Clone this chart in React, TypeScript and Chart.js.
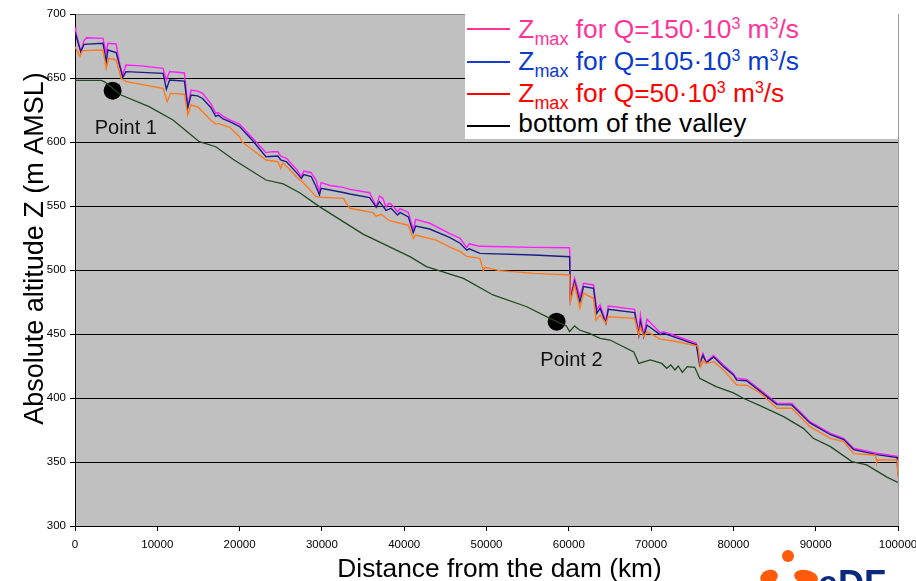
import React, { useEffect, useRef } from 'react';
import { Chart, registerables } from 'chart.js';

Chart.register(...registerables);

const FONT = '"Liberation Sans", Arial, Helvetica, sans-serif';

// [distance from dam (m), altitude (m AMSL)]
const zmax150: [number, number][] = [
  [0, 689.6], [100, 686], [700, 670.6], [1100, 679.2], [1400, 681.5], [3400, 681], [3800, 669.3], [4000, 677.1],
  [5000, 676.6], [5400, 661.5], [5800, 652.3], [6200, 660.2], [8000, 659.5], [10700, 657.6], [11100, 648.4],
  [11500, 655], [13300, 653.9], [13700, 627.6], [14100, 640.6], [14900, 639.8], [15500, 638], [16500, 630],
  [17100, 622.5], [17400, 623], [18000, 620], [18800, 617.2], [20000, 614], [21600, 602.9], [23200, 591.7],
  [24000, 592.5], [24650, 592.4], [25000, 589], [25700, 587.2], [27000, 578], [27500, 572.9], [27800, 577.3],
  [28700, 576], [29300, 570], [29700, 561.2], [29900, 568.2], [31000, 566], [32600, 564.6], [33400, 563],
  [35800, 560.4], [36600, 549.5], [37000, 557.8], [37400, 556], [37800, 549], [38100, 552], [38400, 551.6],
  [39200, 545.6], [39500, 548], [40500, 545], [41100, 531.3], [41400, 539.6], [43100, 536.5], [45500, 528.7],
  [46800, 524.8], [47600, 517.5], [47900, 520.5], [48500, 519.5], [49200, 518.5], [55700, 517.7], [60100, 517.4],
  [60200, 479.1], [60700, 493.5], [61350, 479], [61800, 489.6], [63000, 488.3], [63400, 468.8], [63800, 472.7],
  [64500, 459.6], [64800, 471.9], [68000, 469.3], [68500, 450.5], [68700, 464.8], [69100, 449.2], [69500, 461.5],
  [71100, 451], [71500, 451.8], [72700, 449.2], [75500, 442.7], [75900, 427], [76300, 434.9], [76700, 428.4],
  [77600, 433.2], [78800, 425.8], [80000, 419], [80400, 415.4], [81600, 414.6], [83300, 406.3], [85300, 395.8],
  [87100, 395.8], [89300, 381.5], [91800, 372.4], [93400, 368.5], [94600, 360.7], [97400, 356.8], [99900, 354.5],
  [100000, 339.8],
];

const zmax105: [number, number][] = [
  [0, 685.7], [700, 670.6], [1100, 676.3], [3400, 677.1], [3800, 662.8], [4000, 671.9], [5000, 669.8],
  [5800, 650.5], [6200, 655], [10700, 653.6], [11100, 641.2], [11500, 648.4], [13300, 647.6], [13700, 626.6],
  [14100, 636.7], [14900, 636], [15500, 634], [16500, 627], [17100, 620], [17400, 621], [18000, 618],
  [18800, 615.9], [20000, 612], [21600, 601], [23200, 588.5], [24650, 589], [25000, 586], [25700, 584.5],
  [27000, 575.5], [27500, 571.6], [27800, 574.5], [28700, 573], [29300, 565], [29700, 558.6], [29900, 563.8],
  [32600, 560.5], [33400, 559.4], [35800, 556.5], [36600, 549], [37000, 553.4], [37800, 546.5], [38400, 548.2],
  [39200, 543], [39500, 545], [40500, 541.5], [41100, 529.2], [41400, 534.4], [43100, 532], [45500, 525.5],
  [46800, 520.9], [47600, 515.5], [47900, 516.5], [49200, 513], [55700, 511.7], [60100, 510.4], [60200, 476.6],
  [60700, 490.9], [61350, 475.3], [61800, 487], [63000, 485.7], [63400, 466.2], [63800, 470.1], [64500, 458.4],
  [64800, 469.3], [68000, 466.7], [68500, 449.2], [68700, 459.6], [69100, 448], [69500, 457], [71100, 449.5],
  [71500, 450.5], [72700, 448], [75500, 441.5], [75900, 426], [76300, 433.5], [76700, 427.5], [77600, 432],
  [78800, 424.5], [80000, 418], [80400, 414], [81600, 413.5], [83300, 405], [85300, 394.8], [87100, 394.6],
  [89300, 380.5], [91800, 371.3], [93400, 367.5], [94600, 359.7], [97400, 355.8], [99900, 353.5], [100000, 339.5],
];

const zmax50: [number, number][] = [
  [0, 674.5], [600, 666.7], [900, 671.4], [3400, 671.9], [3800, 657.6], [4100, 665.4], [5000, 664.1],
  [5600, 649.8], [6200, 647.1], [10700, 642], [11200, 631.5], [11600, 638], [13300, 637.3], [13700, 621.1],
  [14100, 628.9], [15000, 627], [16500, 617], [17100, 614], [17400, 614.5], [18800, 611.5], [20000, 604],
  [20300, 600.2], [21600, 593.8], [23200, 585.9], [24650, 584.6], [25000, 579.4], [25200, 583.5], [25700, 581],
  [27300, 570.3], [27500, 569.8], [29300, 557.3], [29900, 556.8], [32600, 556], [33400, 548.2], [36200, 544.8],
  [36600, 542], [37200, 543.5], [38200, 538.5], [40500, 535], [41100, 524.7], [41400, 527.3], [43900, 523.4],
  [45500, 518], [46800, 514.3], [47600, 510.6], [49200, 509.1], [49600, 499.5], [49800, 502.1], [51600, 499.5],
  [55700, 497.4], [60100, 496.1], [60200, 475.3], [60700, 488.3], [61350, 470.1], [61800, 481.8], [63000, 477.9],
  [63300, 460.9], [63800, 464.8], [64500, 458.4], [64800, 463.5], [68000, 462.2], [68500, 449.2], [68700, 455.7],
  [69100, 447.9], [69500, 451.8], [71100, 446], [72700, 444.5], [75700, 440.6], [76000, 424.5], [76400, 429.2],
  [76700, 427], [77600, 428.4], [78800, 421.9], [80400, 410.2], [81600, 410], [83300, 403.7], [85300, 392],
  [87100, 392], [89300, 377.6], [91800, 368.5], [93400, 365.9], [94600, 356.5], [97300, 355.3], [97400, 349],
  [97500, 351.6], [99900, 351.6], [100000, 338.5],
];

const valleyBottom: [number, number][] = [
  [0, 648.2], [3200, 648.2], [3600, 647], [4200, 644], [5600, 636.7], [9000, 627.6], [11900, 617.2],
  [15100, 600.2], [17100, 596.3], [19200, 586.5], [23200, 570.3], [25300, 567.2], [27300, 560.4], [29700, 549.5],
  [35000, 528], [40700, 510.4], [42700, 502.6], [47200, 493.5], [50800, 480.5], [54900, 471.3], [57700, 462.2],
  [59700, 456.3], [60100, 451.8], [60700, 456.3], [61300, 453.1], [62500, 450.5], [63800, 446.6], [65000, 445.3],
  [67900, 436], [68500, 427], [69900, 429.7], [71300, 427], [71900, 423.2], [72400, 425.8], [72900, 421.9],
  [73300, 425], [73800, 420], [74400, 424.5], [75300, 424], [75900, 415.4], [77900, 408.9], [80000, 404],
  [81200, 399.8], [83300, 393.8], [86100, 385.4], [88500, 376.3], [89700, 368.5], [91800, 362], [94400, 350.3],
  [96200, 347.7], [98700, 338], [100000, 334],
];

const pointLabels = ['Point 1', 'Point 2'];
const pointDist = [4570, 58520];
const pointZ = [640.1, 459.6];

const legendFlows = ['150', '105', '50'];
const legendValley = 'bottom of the valley';
const axisTitleX = 'Distance from the dam (km)';
const axisTitleY = 'Absolute altitude Z (m AMSL)';

const legendTextColors = ['#ff3399', '#0a3acc', '#ff0000', '#000000'];
const legendLineColors = ['#ff3399', '#1a3ccc', '#ff0000', '#000000'];

export default function App() {
  const ref = useRef<HTMLCanvasElement>(null);

  useEffect(() => {
    document.body.style.margin = '0';
    const canvas = ref.current;
    if (!canvas) return;
    const toXY = (arr: [number, number][]) => arr.map(([x, y]) => ({ x, y }));

    const decor = {
      id: 'decor',
      beforeDraw(chart: any) {
        const { ctx, chartArea: a } = chart;
        ctx.save();
        ctx.fillStyle = '#c0c0c0';
        ctx.fillRect(a.left, a.top, a.right - a.left, a.bottom - a.top);
        ctx.restore();
      },
      afterDraw(chart: any) {
        const { ctx, chartArea: a } = chart;
        ctx.save();
        ctx.strokeStyle = '#9a9a9a';
        ctx.lineWidth = 1;
        ctx.beginPath();
        ctx.moveTo(Math.round(a.right) + 0.5, a.top);
        ctx.lineTo(Math.round(a.right) + 0.5, a.bottom);
        ctx.stroke();

        const meta = chart.getDatasetMeta(4);
        ctx.fillStyle = '#111';
        ctx.font = `20px ${FONT}`;
        ctx.textAlign = 'center';
        ctx.textBaseline = 'alphabetic';
        const offs = [[13.2, 43.8], [14.8, 44]];
        meta.data.forEach((el: any, i: number) => {
          ctx.fillText(pointLabels[i], el.x + offs[i][0], el.y + offs[i][1]);
        });

        // EDF logo (approximate, cut at the bottom edge)
        ctx.fillStyle = '#ff5a0a';
        ctx.beginPath(); ctx.ellipse(788, 556, 6, 6, 0, 0, Math.PI * 2); ctx.fill();
        ctx.beginPath(); ctx.ellipse(769, 577, 9, 7, -0.4, 0, Math.PI * 2); ctx.fill();
        ctx.beginPath(); ctx.ellipse(806, 577, 12, 7, 0.2, 0, Math.PI * 2); ctx.fill();
        ctx.fillStyle = '#0b2a7e';
        ctx.font = `bold 36px ${FONT}`;
        ctx.textAlign = 'left';
        ctx.fillText('eDF', 818, 596);

        ctx.fillStyle = '#000';
        ctx.textAlign = 'center';
        ctx.font = `26.3px ${FONT}`;
        ctx.fillText(axisTitleX, 499.5, 576.5);
        ctx.font = `27px ${FONT}`;
        ctx.translate(43.3, 248.5);
        ctx.rotate(-Math.PI / 2);
        ctx.fillText(axisTitleY, 0, 0);
        ctx.restore();
      },
    };

    const lineDs = (label: string, arr: [number, number][], color: string, width: number) => ({
      label,
      data: toXY(arr),
      borderColor: color,
      backgroundColor: color,
      borderWidth: width,
      showLine: true,
      pointRadius: 0,
      tension: 0,
    });

    const chart = new Chart(canvas, {
      type: 'scatter',
      data: {
        datasets: [
          lineDs('Zmax Q=50', zmax50, '#ff7a1c', 1.4),
          lineDs('Zmax Q=105', zmax105, '#1c1c86', 1.4),
          lineDs('Zmax Q=150', zmax150, '#ff1cff', 1.4),
          lineDs('bottom of the valley', valleyBottom, '#1f4a1f', 1.3),
          {
            label: 'points',
            data: pointDist.map((x, i) => ({ x, y: pointZ[i] })),
            showLine: false,
            pointRadius: 9,
            pointBackgroundColor: '#000',
            pointBorderColor: '#000',
            pointBorderWidth: 0,
          },
        ],
      } as any,
      options: {
        responsive: false,
        animation: false,
        events: [],
        layout: { padding: { left: 0, top: 14, right: 62, bottom: 0 } },
        plugins: { legend: { display: false }, tooltip: { enabled: false } },
        scales: {
          x: {
            type: 'linear',
            min: 0,
            max: 100000,
            afterFit(s: any) { s.height = 55; },
            ticks: {
              stepSize: 10000,
              autoSkip: false,
              maxRotation: 0,
              padding: 7,
              color: '#000',
              font: { family: FONT, size: 11.5 },
              callback: (v: any) => String(v),
            },
            grid: { drawOnChartArea: false, drawTicks: true, tickLength: 5, color: '#000' },
            border: { display: true, color: '#000', width: 1 },
          },
          y: {
            min: 300,
            max: 700,
            afterFit(s: any) { s.width = 75; },
            ticks: {
              stepSize: 50,
              padding: 4,
              color: '#000',
              font: { family: FONT, size: 11.5 },
            },
            grid: {
              color: (c: any) => (c.tick && c.tick.value === 700 ? '#8a8a8a' : '#000'),
              tickColor: '#000',
              tickLength: 5,
              lineWidth: 1,
            },
            border: { display: true, color: '#000', width: 1 },
          },
        },
      } as any,
      plugins: [decor],
    });
    return () => chart.destroy();
  }, []);

  const lineTops = [14.3, 46.7, 79.3, 110.7];
  const textTops = [1.5, 33.5, 65.5, 96];

  return (
    <div style={{ position: 'relative', width: 916, height: 581, overflow: 'hidden', background: '#fff' }}>
      <canvas ref={ref} width={960} height={581} style={{ display: 'block', width: 960, height: 581 }} />
      <div
        style={{
          position: 'absolute', left: 465, top: 14, width: 433, height: 125, background: '#fff',
          fontFamily: FONT,
        }}
      >
        {lineTops.map((t, i) => (
          <div key={'l' + i} style={{ position: 'absolute', left: 1.7, top: t, width: 43.3, height: 2, background: legendLineColors[i] }} />
        ))}
        {legendFlows.map((q, i) => (
          <div
            key={'t' + i}
            style={{
              position: 'absolute', left: 53.3, top: textTops[i], whiteSpace: 'nowrap',
              fontSize: 26.3, lineHeight: '26px', color: legendTextColors[i],
            }}
          >
            Z<span style={{ fontSize: 18, position: 'relative', top: 7 }}>max</span>
            {' for Q=' + q + '·10'}
            <span style={{ fontSize: 16, position: 'relative', top: -9 }}>3</span>
            {' m'}
            <span style={{ fontSize: 16, position: 'relative', top: -9 }}>3</span>
            {'/s'}
          </div>
        ))}
        <div
          style={{
            position: 'absolute', left: 53.3, top: textTops[3], whiteSpace: 'nowrap',
            fontSize: 26.3, lineHeight: '26px', color: legendTextColors[3],
          }}
        >
          {legendValley}
        </div>
      </div>
    </div>
  );
}
